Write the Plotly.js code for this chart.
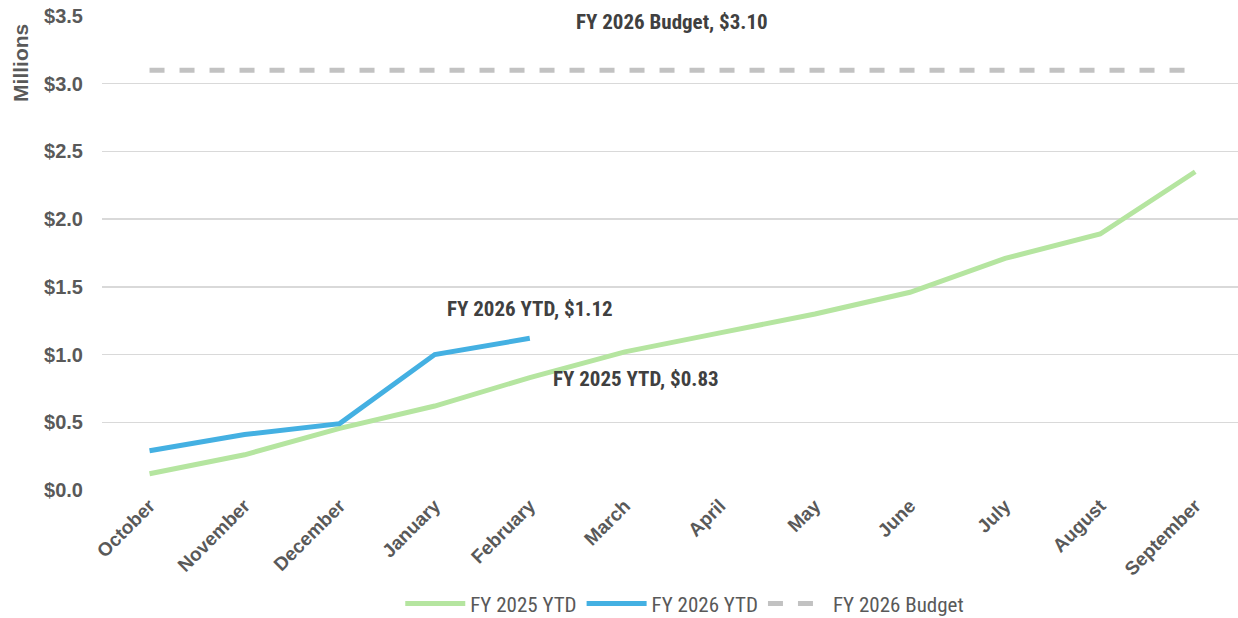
<!DOCTYPE html>
<html><head><meta charset="utf-8">
<script src="https://cdn.plot.ly/plotly-3.0.1.min.js"></script>
<style>html,body{margin:0;padding:0;background:#fff}#chart{width:1238px;height:618px}</style>
</head><body><div id="chart"></div>
<script>
const months = ["October","November","December","January","February","March","April","May","June","July","August","September"];
const fy2025 = [0.12,0.26,0.455,0.62,0.83,1.02,1.16,1.30,1.46,1.71,1.89,2.35];
const fy2026 = [0.29,0.41,0.49,1.00,1.12];
const budget = [3.10,3.10,3.10,3.10,3.10,3.10,3.10,3.10,3.10,3.10,3.10,3.10];
const yTicks = [0,0.5,1.0,1.5,2.0,2.5,3.0,3.5];
const yTickText = ["$0.0","$0.5","$1.0","$1.5","$2.0","$2.5","$3.0","$3.5"];

const grey = "#595959";
const narrow = "'Liberation Sans Narrow', 'Roboto Condensed', 'Liberation Sans', sans-serif";
const traces = [
  {x: months, y: fy2025, name: "FY 2025 YTD", type: "scatter", mode: "lines",
   line: {color: "#b5e5a0", width: 5}},
  {x: months.slice(0, fy2026.length), y: fy2026, name: "FY 2026 YTD", type: "scatter", mode: "lines",
   line: {color: "#44b0e2", width: 5}},
  {x: months, y: budget, name: "FY 2026 Budget", type: "scatter", mode: "lines",
   line: {color: "#c2c2c2", width: 5, dash: "dash"}}
];
const layout = {
  width: 1238, height: 618,
  margin: {l: 102, r: 0, t: 16, b: 128, autoexpand: false},
  paper_bgcolor: "#fff", plot_bgcolor: "#fff",
  showlegend: true,
  legend: {orientation: "h", x: 0.513, xanchor: "center", y: -0.24, yanchor: "middle",
    itemwidth: 60,
    font: {family: narrow, size: 21, color: grey}, traceorder: "normal"},
  xaxis: {type: "category", range: [-0.5, 11.45], tickangle: -45, showgrid: false,
    zeroline: false, showline: false, ticks: "", automargin: false,
    tickfont: {family: "'Liberation Sans', Arial, sans-serif", size: 19, color: grey, weight: "bold"}},
  yaxis: {range: [0, 3.5], tickvals: yTicks, ticktext: yTickText, showgrid: true,
    gridcolor: "#d9d9d9", gridwidth: 1.5, zeroline: false, showline: false, ticks: "",
    ticklabelstandoff: 18, automargin: false,
    tickfont: {family: "'Liberation Sans', Arial, sans-serif", size: 20, color: grey, weight: "bold"}},
  annotations: [
    {text: "Millions", textangle: -90, xref: "paper", yref: "paper", x: -0.072, y: 0.988,
     xanchor: "center", yanchor: "top", showarrow: false,
     font: {family: "'Liberation Sans', Arial, sans-serif", size: 21, color: grey, weight: "bold"}},
    {text: "FY 2026 Budget, $3.10", xref: "x", yref: "y", x: 5.5, y: budget[5], yshift: 48,
     showarrow: false, font: {family: narrow, size: 21, color: "#404040", weight: "bold"}},
    {text: "FY 2026 YTD, $1.12", xref: "x", yref: "y", x: 4, y: fy2026[4], yshift: 29,
     showarrow: false, font: {family: narrow, size: 21, color: "#404040", weight: "bold"}},
    {text: "FY 2025 YTD, $0.83", xref: "x", yref: "y", x: 4, y: fy2025[4], xshift: 106, yshift: -1,
     showarrow: false, font: {family: narrow, size: 21, color: "#404040", weight: "bold"}}
  ]
};
Plotly.newPlot("chart", traces, layout, {displayModeBar: false, staticPlot: true});
</script></body></html>
